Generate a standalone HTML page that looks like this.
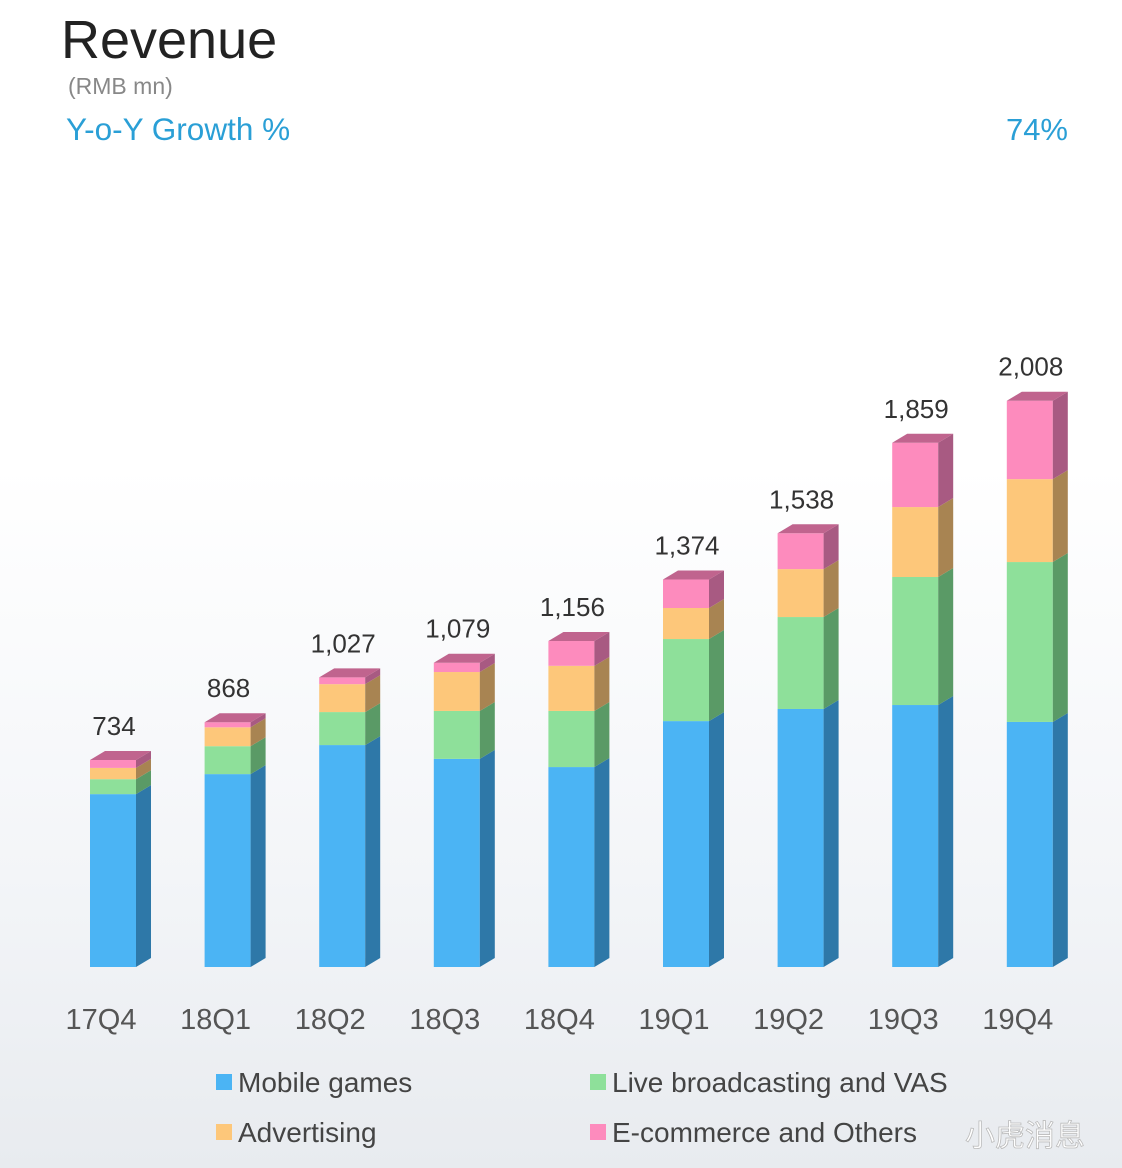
<!DOCTYPE html>
<html><head><meta charset="utf-8"><style>
body{margin:0;width:1122px;height:1168px;overflow:hidden;font-family:"Liberation Sans",sans-serif;background:linear-gradient(#fff 0%,#fff 40%,#f3f5f8 75%,#e8ebef 100%);}
svg{position:absolute;left:0;top:0}
</style></head><body>
<svg id="c" width="1122" height="1168">
<text x="61" y="58" font-size="54" fill="#222">Revenue</text>
<text x="68" y="94" font-size="23" fill="#888">(RMB mn)</text>
<text x="66" y="140" font-size="31.5" fill="#2a9fd6">Y-o-Y Growth %</text>
<text x="1068" y="140" font-size="31" fill="#2a9fd6" text-anchor="end">74%</text>
<g id="bars"></g>
<g>
<rect x="216" y="1074" width="16" height="16" fill="#4bb4f4"/><text x="238" y="1092" font-size="28" fill="#444">Mobile games</text>
<rect x="590" y="1074" width="16" height="16" fill="#8ee09a"/><text x="612" y="1092" font-size="28" fill="#444">Live broadcasting and VAS</text>
<rect x="216" y="1124" width="16" height="16" fill="#fdc77a"/><text x="238" y="1142" font-size="28" fill="#444">Advertising</text>
<rect x="590" y="1124" width="16" height="16" fill="#fd8bbd"/><text x="612" y="1142" font-size="28" fill="#444">E-commerce and Others</text>
</g>
<text x="965" y="1146" font-size="30" fill="#fff" stroke="#bbb" stroke-width="0.8" font-family="'Liberation Sans','Noto Sans CJK SC',sans-serif">小虎消息</text>
</svg>
<script>
const categories=["17Q4","18Q1","18Q2","18Q3","18Q4","19Q1","19Q2","19Q3","19Q4"];
const mobileGames=[613,684,787,738,709,872,915,929,869];
const liveBroadcasting=[53,99,117,170,199,291,326,454,567];
const advertising=[40,67,99,138,160,110,170,248,294];
const ecommerce=[28,18,24,33,88,101,127,228,278];
const totals=["734","868","1,027","1,079","1,156","1,374","1,538","1,859","2,008"];
const NS="http://www.w3.org/2000/svg";
const g=document.getElementById('bars');
const base=967,scale=0.282,x0=90,step=114.6,w=46,dx=15,dy=9;
const yPos=v=>base-v*scale;
const xPos=i=>x0+i*step;
const series=[[mobileGames,"#4bb4f4","#2e78a8","mobile-games"],[liveBroadcasting,"#8ee09a","#5a9a66","live-broadcasting"],[advertising,"#fdc77a","#a88452","advertising"],[ecommerce,"#fd8bbd","#a85a82","ecommerce"]];
function el(t,a){const e=document.createElementNS(NS,t);for(const k in a)e.setAttribute(k,a[k]);g.appendChild(e);return e;}
categories.forEach((c,i)=>{
  const x=xPos(i);let cum=0;
  series.forEach(([arr,fc,sc,nm])=>{
    const y1=yPos(cum),y2=yPos(cum+arr[i]);cum+=arr[i];
    const r=el('rect',{x:x,y:y2,width:w,height:y1-y2,fill:fc});
    
    
    const s=el('polygon',{points:`${x+w},${y1} ${x+w+dx},${y1-dy} ${x+w+dx},${y2-dy} ${x+w},${y2}`,fill:sc});
    
    
  });
  const yt=yPos(cum);
  const t=el('polygon',{points:`${x},${yt} ${x+dx},${yt-dy} ${x+w+dx},${yt-dy} ${x+w},${yt}`,fill:"#c0648e"});
  
  
  const lv=el('text',{x:x+w/2+1,y:yt-25,'font-size':26,fill:'#333','text-anchor':'middle'});
  lv.textContent=totals[i];
  
  
  const lx=el('text',{x:x+w/2-12,y:1029,'font-size':29,fill:'#555','text-anchor':'middle'});
  lx.textContent=c;
  
  
});
</script>
</body></html>
